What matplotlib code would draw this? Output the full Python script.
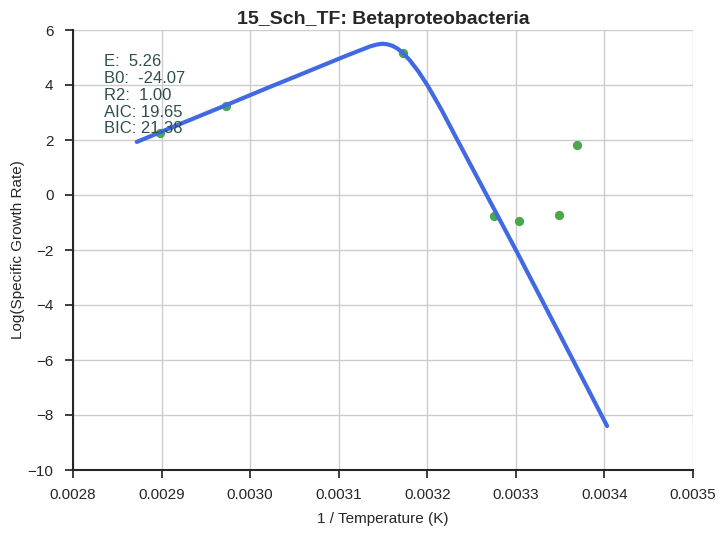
import matplotlib
matplotlib.use('Agg')
import matplotlib.pyplot as plt
from matplotlib import font_manager

# observed data points
inv_temp = [0.002898, 0.002973, 0.003173, 0.003275, 0.003304, 0.003349, 0.003369]
log_rate = [2.25, 3.24, 5.16, -0.76, -0.95, -0.73, 1.82]

# fitted curve
curve_x = [0.002872, 0.002920, 0.002973, 0.003020, 0.003056, 0.003090, 0.003109,
           0.003128, 0.003136, 0.003143, 0.003149, 0.003155, 0.003161, 0.003167,
           0.003173, 0.003180, 0.003190, 0.003200, 0.003216, 0.003233, 0.003265,
           0.003300, 0.003350, 0.003403]
curve_y = [1.93, 2.57, 3.27, 3.90, 4.37, 4.82, 5.07,
           5.31, 5.41, 5.47, 5.50, 5.48, 5.42, 5.31,
           5.15, 4.91, 4.49, 4.00, 3.10, 2.06, 0.12,
           -2.00, -5.10, -8.40]

stats_text = "E:  5.26\nB0:  -24.07\nR2:  1.00\nAIC: 19.65\nBIC: 21.38"

installed = set(f.name for f in font_manager.fontManager.ttflist)
narrow = 'Liberation Sans Narrow' if 'Liberation Sans Narrow' in installed else 'Liberation Sans'

plt.rcParams['font.family'] = ['Liberation Sans', 'DejaVu Sans']

fig = plt.figure(figsize=(7.23, 5.33), dpi=100)
ax = fig.add_axes([73/723, 1-470/533, 620/723, 440/533])

ax.grid(True, color='#cccccc', linewidth=1)
ax.set_axisbelow(True)
for s in ['top', 'right']:
    ax.spines[s].set_visible(False)
for s in ['left', 'bottom']:
    ax.spines[s].set_color('#262626')
    ax.spines[s].set_linewidth(1.5)

ax.plot(curve_x, curve_y, color='royalblue', linewidth=3, zorder=3,
        solid_joinstyle='round', solid_capstyle='round')
ax.scatter(inv_temp, log_rate, color='#4aa84a', s=45, zorder=2, linewidths=0)

ax.text(0.002835, 5.12, stats_text, color='darkslategray', fontsize=12,
        va='top', ha='left', linespacing=1.15, zorder=4)

ax.set_xlim(0.0028, 0.0035)
ax.set_ylim(-10, 6)
ax.set_xticks([0.0028, 0.0029, 0.0030, 0.0031, 0.0032, 0.0033, 0.0034, 0.0035])
ax.set_xticklabels(['0.0028', '0.0029', '0.0030', '0.0031', '0.0032', '0.0033', '0.0034', '0.0035'])
ax.set_yticks(range(-10, 7, 2))
ax.tick_params(direction='out', length=6, width=1.25, color='#262626',
               labelsize=11, labelcolor='#262626')
ax.tick_params(axis='x', pad=7)
ax.tick_params(axis='y', pad=8)
for lbl in ax.get_xticklabels() + ax.get_yticklabels():
    lbl.set_family(narrow)

ax.set_xlabel('1 / Temperature (K)', fontsize=11, color='#262626', family=narrow, labelpad=7)
ax.set_ylabel('Log(Specific Growth Rate)', fontsize=11, color='#262626', family=narrow, labelpad=2)
ax.set_title('15_Sch_TF: Betaproteobacteria', fontsize=14, fontweight='bold', color='#262626', pad=4)

fig.savefig('out.png', dpi=100)
